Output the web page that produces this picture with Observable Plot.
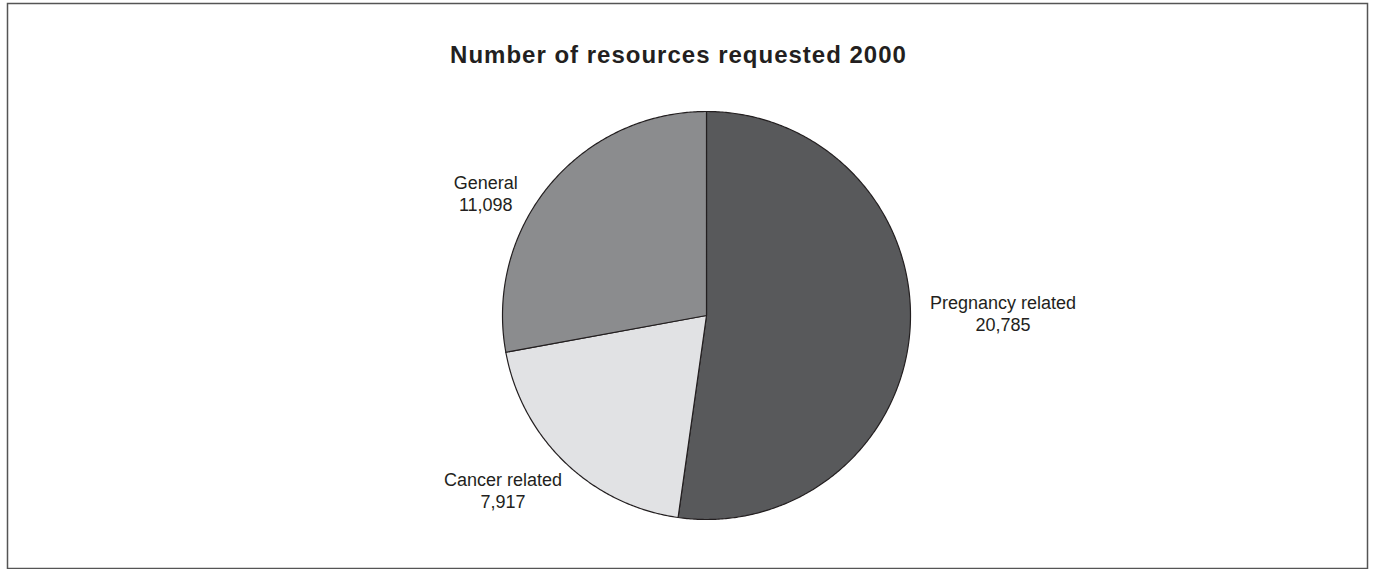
<!DOCTYPE html>
<html>
<head>
<meta charset="utf-8">
<script src="https://cdn.jsdelivr.net/npm/d3@7"></script>
<script src="https://cdn.jsdelivr.net/npm/@observablehq/plot@0.6"></script>
<style>
  html, body { margin: 0; padding: 0; background: #fff; }
  svg { display: block; }
</style>
</head>
<body>
<div id="chart"></div>
<script>
const title = "Number of resources requested 2000";
const categories = ["Pregnancy related", "Cancer related", "General"];
const values = [20785, 7917, 11098];
const labels = ["20,785", "7,917", "11,098"];

const colors = {"Pregnancy related": "#58595b", "Cancer related": "#e1e2e4", "General": "#8b8c8e"};

// pie geometry in radius units (pie centred at 0,0, radius 1)
const total = d3.sum(values);
const slices = [];
let acc = 0;
categories.forEach((c, i) => {
  const a0 = acc / total * 2 * Math.PI;
  acc += values[i];
  const a1 = acc / total * 2 * Math.PI;
  slices.push({category: c, value: values[i], label: labels[i], a0, a1, mid: (a0 + a1) / 2});
});

function slicePoints(s) {
  const pts = [{x: 0, y: 0}];
  const n = Math.max(2, Math.ceil((s.a1 - s.a0) / (Math.PI / 360)));
  for (let k = 0; k <= n; k++) {
    const a = s.a0 + (s.a1 - s.a0) * k / n;
    pts.push({x: Math.sin(a), y: Math.cos(a)});
  }
  pts.push({x: 0, y: 0});
  return pts;
}

const labelData = slices.map(s => ({
  category: s.category,
  text: s.category + "\n" + s.label,
  x: 1.3 * Math.sin(s.mid),
  y: 1.3 * Math.cos(s.mid)
}));

const offsets = {"Pregnancy related": [32, -3], "Cancer related": [-20, 1], "General": [-17, 65]};

const R = 204, cx = 706, cy = 315, W = 1374, H = 569;

const marks = [
  Plot.frame({stroke: "#555", strokeWidth: 1.5, insetLeft: 7, insetTop: 3, insetRight: 7, insetBottom: 1}),
  Plot.text([title], {frameAnchor: "top", text: d => d, dx: -9, dy: 62, lineAnchor: "bottom",
    fontSize: 24, fontWeight: "bold", fill: "#231f20"})
];
slices.forEach(s => {
  marks.push(Plot.line(slicePoints(s), {x: "x", y: "y", fill: colors[s.category], stroke: "#231f20", strokeWidth: 1.2, curve: "linear"}));
});
labelData.forEach(l => {
  const [dx, dy] = offsets[l.category];
  marks.push(Plot.text([l], {x: "x", y: "y", text: "text", dx, dy, lineAnchor: "bottom",
    textAnchor: "middle", fontSize: 18, lineHeight: 1.22, fill: "#231f20"}));
});

const plot = Plot.plot({
  width: W, height: H,
  margin: 0,
  style: {fontFamily: "'Liberation Sans', Arial, Helvetica, sans-serif", background: "#fff"},
  x: {domain: [-cx / R, (W - cx) / R], axis: null},
  y: {domain: [-(H - cy) / R, cy / R], axis: null},
  marks
});
d3.select(plot).selectAll("text")
  .filter(function() { return this.textContent === title; })
  .style("letter-spacing", "1px");
document.getElementById("chart").appendChild(plot);
</script>
</body>
</html>
